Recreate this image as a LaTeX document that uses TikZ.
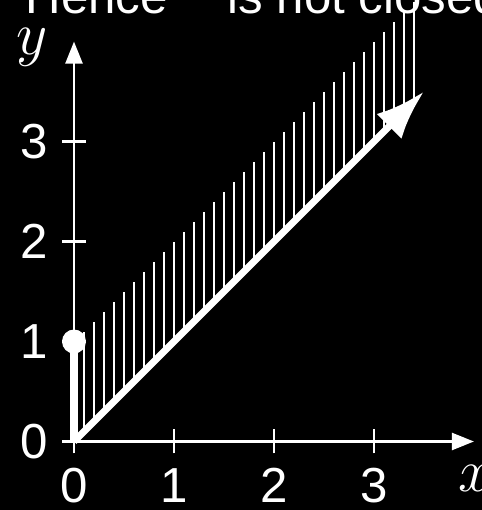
\documentclass[tikz,border=0pt]{standalone}
\usepackage{fontspec}
\setmainfont{Liberation Sans}
\usetikzlibrary{arrows.meta}
\begin{document}
\begin{tikzpicture}[x=1cm,y=1cm,
  lbl/.style={text=white,font=\fontsize{14}{16}\selectfont,inner sep=0pt},
  mlbl/.style={text=white,font=\fontsize{17.5}{20}\selectfont,inner sep=0pt},
  axisline/.style={draw=white,line width=0.85pt,-{Triangle[length=6.3pt,width=4.8pt]}},
  tickline/.style={draw=white,line width=0.85pt},
  hatchline/.style={draw=white,line width=0.85pt},
  thickline/.style={draw=white,line width=2pt}]
\fill[black] (-0.74,-0.685) rectangle (4.08,4.415);
\useasboundingbox (-0.74,-0.685) rectangle (4.08,4.415);
\clip (-0.74,-0.685) rectangle (4.08,4.415);
% title (cut off at top)
\node[lbl,anchor=base west] (t1) at (-0.49,4.28) {Hence};
\node[lbl,anchor=base west] (t2) at (1.53,4.28) {is not closed};
% hatching
\foreach \i in {1,...,34} {
  \draw[hatchline] (\i/10,\i/10) -- (\i/10,\i/10+1);
}
% axes
\coordinate (xs) at (-0.12,0);
\coordinate (xe) at (4.0,0);
\coordinate (ys) at (0,-0.12);
\coordinate (ye) at (0,4.0);
\draw[axisline] (xs) -- (xe);
\draw[axisline] (ys) -- (ye);
\foreach \k in {1,2,3} {
  \draw[tickline] (\k,-0.12) -- (\k,0.12);
  \draw[tickline] (-0.12,\k) -- (0.12,\k);
}
\foreach \k in {0,1,2,3} {
  \node[lbl] (xl\k) at (\k,-0.44) {\k};
  \node[lbl] (yl\k) at (-0.40,\k) {\k};
}
\node[mlbl] (xlab) at (4.01,-0.37) {$x$};
\node[mlbl] (ylab) at (-0.42,3.94) {$y$};
% set boundary
\coordinate (o) at (0,0);
\coordinate (p1) at (0,1);
\coordinate (tip) at (3.5,3.5);
\draw[thickline] (o) -- (p1);
\fill[white] (p1) circle (0.12);
\draw[thickline,-{Latex[length=14pt,width=10pt]}] (o) -- (tip);
\end{tikzpicture}
\end{document}
